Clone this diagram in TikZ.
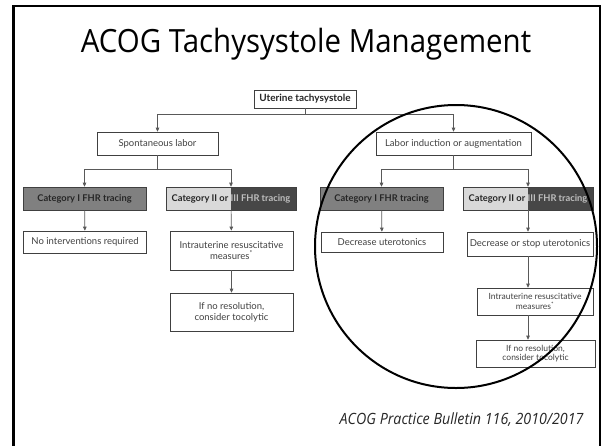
\documentclass[tikz,border=0pt]{standalone}
\usepackage{fontspec}
\setmainfont{Lato}
\newfontfamily\headfont[FakeStretch=0.92]{Open Sans}
\usetikzlibrary{arrows.meta}

\begin{document}
\begin{tikzpicture}[x=1pt,y=-1pt,
    box/.style={draw=black!75, line width=0.7pt, fill=white, text=black!75, align=center,
        inner sep=0pt, font=\fontsize{9.5}{11}\selectfont},
    catbox/.style={box, text=black!85, font=\bfseries\fontsize{9.3}{10}\selectfont},
    link/.style={draw=black!65, line width=0.7pt},
    tip/.style={link, -{Triangle[length=4pt,width=3.6pt]}}]
    \clip (0,0) rectangle (602,445);
    \draw[line width=2.5pt] (13.5,6) rectangle (600,470);

    \node[anchor=base, font=\headfont\fontsize{32}{36}\selectfont] (title) at (306,52) {ACOG Tachysystole Management};

    % top of the tree
    \node[catbox, minimum width=102, minimum height=18, font=\bfseries\fontsize{10}{11}\selectfont] (uter) at (305,99) {Uterine tachysystole};
    \node[box, minimum width=121, minimum height=23] (spont) at (157.5,143.5) {Spontaneous labor};
    \node[box, minimum width=155, minimum height=23] (induct) at (453.5,143.5) {Labor induction or augmentation};

    % left branch
    \node[catbox, fill=black!50, minimum width=123, minimum height=23] (catIa) at (84.5,198.5) {Category I FHR tracing};
    \node[catbox, fill=black!15, minimum width=130, minimum height=23,
        path picture={\fill[black!72] (path picture bounding box.north) rectangle (path picture bounding box.south east);}]
        (catIIa) at (231,198.5) {Category II or \textcolor{black!25}{III FHR tracing}};
    \node[box, minimum width=123, minimum height=22] (nointA) at (85,242) {No interventions required};
    \node[box, minimum width=123, minimum height=39] (intraA) at (231.5,250.5) {Intrauterine resuscitative\\measures\textsuperscript{*}};
    \node[box, minimum width=123, minimum height=38] (noresA) at (231.5,312) {If no resolution,\\consider tocolytic};

    % right branch
    \node[catbox, fill=black!50, minimum width=123, minimum height=23] (catIb) at (381.5,198.5) {Category I FHR tracing};
    \node[catbox, fill=black!15, minimum width=130, minimum height=23,
        path picture={\fill[black!72] (path picture bounding box.north) rectangle (path picture bounding box.south east);}]
        (catIIb) at (528,198.5) {Category II or \textcolor{black!25}{III FHR tracing}};
    \node[box, minimum width=122, minimum height=20] (decrB) at (382,242) {Decrease uterotonics};
    \node[box, minimum width=126, minimum height=24] (stopB) at (530,244) {Decrease or stop uterotonics};
    \node[box, minimum width=116, minimum height=27, font=\fontsize{8.5}{9.5}\selectfont] (intraB) at (535,301.5) {Intrauterine resuscitative\\measures\textsuperscript{*}};
    \node[box, minimum width=119, minimum height=27, font=\fontsize{8.5}{9.5}\selectfont] (noresB) at (535.5,353.5) {If no resolution,\\consider tocolytic};

    \coordinate (brU) at (305,114);
    \coordinate (brS) at (157.5,169);
    \coordinate (brL) at (453.5,169);

    \draw[link] (uter) -- (brU);
    \draw[tip] (brU) -| (spont.north);
    \draw[tip] (brU) -| (induct.north);
    \draw[link] (spont) -- (brS);
    \draw[tip] (brS) -| (catIa.north);
    \draw[tip] (brS) -| (catIIa.north);
    \draw[link] (induct) -- (brL);
    \draw[tip] (brL) -| (catIb.north);
    \draw[tip] (brL) -| (catIIb.north);

    \draw[tip] (catIa) -- (nointA);
    \draw[tip] (catIIa) -- (intraA);
    \draw[tip] (intraA) -- (noresA);
    \draw[tip] (catIb) -- (decrB);
    \draw[tip] (catIIb.south) -- (catIIb.south |- stopB.north);
    \draw[tip] (catIIb.south |- stopB.south) -- (catIIb.south |- intraB.north);
    \draw[tip] (catIIb.south |- intraB.south) -- (catIIb.south |- noresB.north);

%    \draw[red] (456,246) circle (2);
    \draw[line width=2pt] (456,246.5) ellipse (141 and 141.5);

    \node[anchor=base east, font=\headfont\itshape\fontsize{15.5}{18}\selectfont, text=black!85] (ref) at (587,424) {ACOG Practice Bulletin 116, 2010/2017};
\end{tikzpicture}
\end{document}
